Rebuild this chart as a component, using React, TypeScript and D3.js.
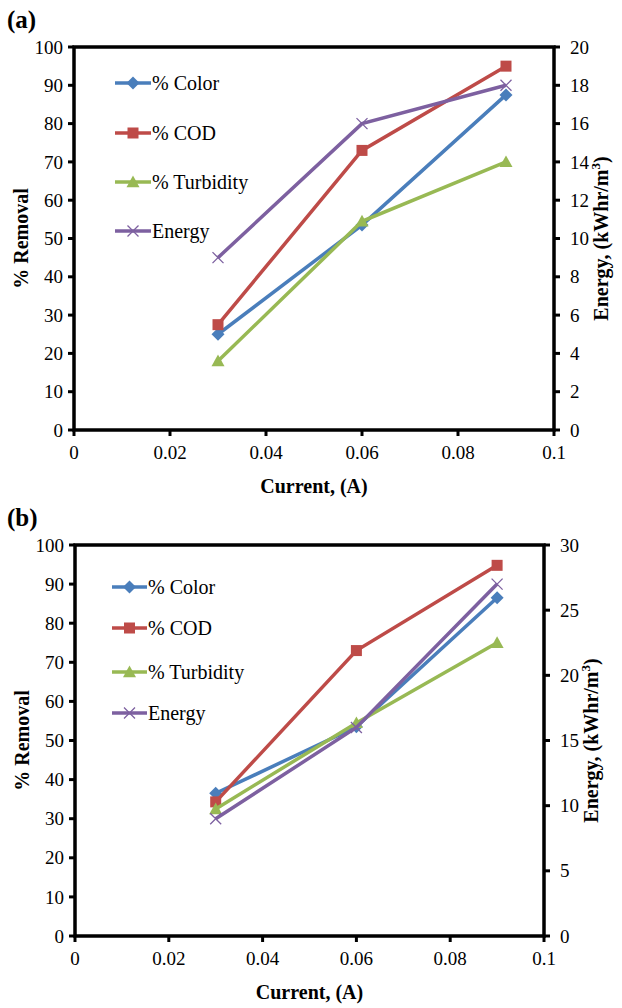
import React from "react";
import * as d3 from "d3";

// current (A) at which each run was made
const currents = [0.03, 0.06, 0.09];

// panel (a)
const colorA = [25, 53.5, 87.5];
const codA = [27.5, 73, 95];
const turbA = [18, 54.5, 70];
const energyA = [9, 16, 18];

// panel (b)
const colorB = [36.5, 53.5, 86.5];
const codB = [34.3, 73, 94.8];
const turbB = [32.5, 54.5, 75];
const energyB = [9, 16, 27];

const xTicks = [0, 0.02, 0.04, 0.06, 0.08, 0.1];
const xTickLabels = ["0", "0.02", "0.04", "0.06", "0.08", "0.1"];
const removalTicks = [0, 10, 20, 30, 40, 50, 60, 70, 80, 90, 100];
const energyTicksA = [0, 2, 4, 6, 8, 10, 12, 14, 16, 18, 20];
const energyTicksB = [0, 5, 10, 15, 20, 25, 30];

const seriesNames = ["% Color", "% COD", "% Turbidity", "Energy"];
const seriesColors = ["#4a7ebb", "#be4b48", "#98b954", "#7d60a0"];
const seriesMarks = ["diamond", "square", "triangle", "x"];

const FONT = "'Liberation Serif', 'Times New Roman', serif";

function Marker({ kind, x, y, color }) {
  if (kind === "diamond") {
    const s = 6.5;
    return <path d={`M${x},${y - s}L${x + s},${y}L${x},${y + s}L${x - s},${y}Z`} fill={color} />;
  }
  if (kind === "square") {
    const s = 5.5;
    return <rect x={x - s} y={y - s} width={2 * s} height={2 * s} fill={color} />;
  }
  if (kind === "triangle") {
    const s = 6.5;
    return <path d={`M${x},${y - s}L${x + s},${y + s * 0.8}L${x - s},${y + s * 0.8}Z`} fill={color} />;
  }
  const s = 5.5;
  return (
    <path d={`M${x - s},${y - s}L${x + s},${y + s}M${x - s},${y + s}L${x + s},${y - s}`}
      stroke={color} strokeWidth={1.3} fill="none" />
  );
}

function Panel({ label, top, left, right, bottom, series, energy, energyTicks, energyMax, legend }) {
  const x = d3.scaleLinear().domain([0, 0.1]).range([left, right]);
  const y = d3.scaleLinear().domain([0, 100]).range([bottom, top]);
  const yE = d3.scaleLinear().domain([0, energyMax]).range([bottom, top]);
  const line = d3.line<[number, number]>().x(d => d[0]).y(d => d[1]);

  const all = [...series.map(s => s.map((v, i) => [x(currents[i]), y(v)] as [number, number])),
    energy.map((v, i) => [x(currents[i]), yE(v)] as [number, number])];
  const midY = (top + bottom) / 2;

  return (
    <g>
      <text x={7} y={top - 19} fontFamily={FONT} fontWeight="bold" fontSize={25}>{label}</text>
      <rect x={left} y={top} width={right - left} height={bottom - top} fill="none" stroke="#000" strokeWidth={3.5} />
      {removalTicks.map(t => (
        <g key={"l" + t}>
          <line x1={left - 6} x2={left} y1={y(t)} y2={y(t)} stroke="#000" strokeWidth={3} />
          <text x={left - 11} y={y(t)} dy="0.35em" textAnchor="end" fontFamily={FONT} fontSize={19}>{t}</text>
        </g>
      ))}
      {energyTicks.map(t => (
        <g key={"r" + t}>
          <line x1={right} x2={right + 6} y1={yE(t)} y2={yE(t)} stroke="#000" strokeWidth={3} />
          <text x={right + 16} y={yE(t)} dy="0.35em" textAnchor="start" fontFamily={FONT} fontSize={19}>{t}</text>
        </g>
      ))}
      {xTicks.map((t, i) => (
        <g key={"x" + t}>
          <line x1={x(t)} x2={x(t)} y1={bottom} y2={bottom + 6} stroke="#000" strokeWidth={3} />
          <text x={x(t)} y={bottom + 29} textAnchor="middle" fontFamily={FONT} fontSize={19}>{xTickLabels[i]}</text>
        </g>
      ))}
      <text x={(left + right) / 2} y={bottom + 63} textAnchor="middle" fontFamily={FONT} fontWeight="bold" fontSize={20}>Current, (A)</text>
      <text transform={`translate(${left - 46},${midY}) rotate(-90)`} textAnchor="middle" fontFamily={FONT} fontWeight="bold" fontSize={20}>% Removal</text>
      <text transform={`translate(${right + 54},${midY}) rotate(-90)`} textAnchor="middle" fontFamily={FONT} fontWeight="bold" fontSize={20}>
        Energy, (kWhr/m<tspan dy={-8} fontSize={13}>3</tspan><tspan dy={8}>)</tspan>
      </text>
      {all.map((pts, k) => (
        <g key={"s" + k}>
          <path d={line(pts)} fill="none" stroke={seriesColors[k]} strokeWidth={3.5} />
          {pts.map((p, i) => <Marker key={i} kind={seriesMarks[k]} x={p[0]} y={p[1]} color={seriesColors[k]} />)}
        </g>
      ))}
      {seriesNames.map((n, k) => (
        <g key={"g" + k}>
          <line x1={legend.x0} x2={legend.x1} y1={legend.ys[k]} y2={legend.ys[k]} stroke={seriesColors[k]} strokeWidth={3.5} />
          <Marker kind={seriesMarks[k]} x={(legend.x0 + legend.x1) / 2} y={legend.ys[k]} color={seriesColors[k]} />
          <text x={legend.x1 + 1} y={legend.ys[k]} dy="0.35em" fontFamily={FONT} fontSize={20}>{n}</text>
        </g>
      ))}
    </g>
  );
}

export default function App() {
  return (
    <svg width={622} height={1008} style={{ position: "absolute", left: 0, top: 0, background: "#fff" }}>
      <Panel label="(a)" top={47} left={74} right={554} bottom={430}
        series={[colorA, codA, turbA]} energy={energyA} energyTicks={energyTicksA} energyMax={20}
        legend={{ x0: 115, x1: 151, ys: [83, 133, 182, 231] }} />
      <Panel label="(b)" top={545} left={75} right={544} bottom={936}
        series={[colorB, codB, turbB]} energy={energyB} energyTicks={energyTicksB} energyMax={30}
        legend={{ x0: 112, x1: 147, ys: [587, 628, 672, 713] }} />
    </svg>
  );
}
